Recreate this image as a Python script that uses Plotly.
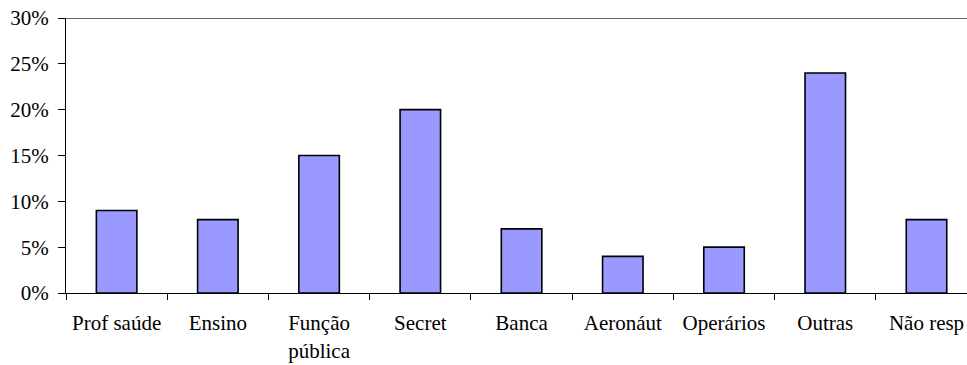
import plotly.graph_objects as go

categories = ["Prof saúde", "Ensino", "Função<br>pública", "Secret", "Banca",
              "Aeronáut", "Operários", "Outras", "Não resp"]
shares = [9, 8, 15, 20, 7, 4, 5, 24, 8]
y_ticks = [0, 5, 10, 15, 20, 25, 30]

font = dict(family="Times New Roman, Liberation Serif, DejaVu Serif, serif", size=21, color="black")

fig = go.Figure(go.Bar(
    x=categories,
    y=shares,
    width=0.4,
    marker=dict(color="#9999FF", line=dict(color="black", width=1.6)),
))

fig.update_layout(
    width=967, height=365,
    margin=dict(l=66, r=0, t=18, b=72),
    paper_bgcolor="white", plot_bgcolor="white",
    font=font,
    showlegend=False,
    bargap=0.6,
)

fig.update_xaxes(
    type="category",
    range=[-0.5, 8.4],
    showline=True, linecolor="black", linewidth=1,
    ticks="outside", ticklen=6, tickcolor="black", tickwidth=1,
    tickson="boundaries",
    ticklabelstandoff=11,
    showgrid=False,
    tickfont=font,
)

fig.update_yaxes(
    range=[0, 30],
    tickvals=y_ticks,
    ticktext=[f"{v}%" for v in y_ticks],
    showline=True, linecolor="black", linewidth=1,
    ticks="outside", ticklen=7, tickcolor="black", tickwidth=1,
    ticklabelstandoff=5,
    showgrid=False, zeroline=False,
    tickfont=font,
)

# upper frame line of the plotting area
fig.add_shape(type="line", xref="paper", yref="y", x0=0, x1=1, y0=30, y1=30,
              line=dict(color="#303030", width=1.5))

fig.write_html("out.html")
